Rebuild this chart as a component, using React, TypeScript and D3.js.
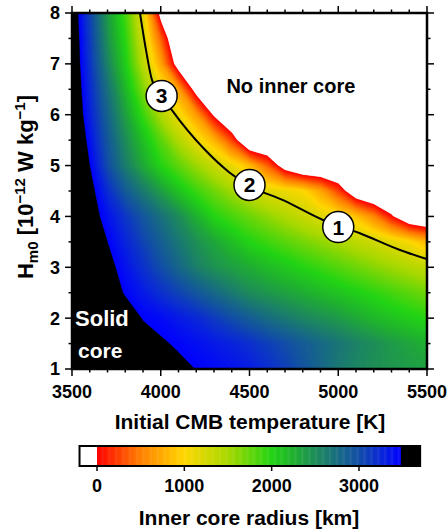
import React, { useRef, useEffect } from 'react'
import * as d3 from 'd3'

// model grid: initial CMB temperature [K] (columns) and H_m0 [1e-12 W/kg] (rows)
const cmbTemperatures = [
    3500, 3600, 3700, 3800, 3900, 4000, 4100, 4200, 4300, 4400, 4500, 4600, 4700, 4800, 4900,
    5000, 5100, 5200, 5300, 5400, 5500,
]
const heatProduction = [1, 1.5, 2, 2.5, 3, 3.5, 4, 4.5, 5, 5.5, 6, 6.5, 7, 7.5, 8]

// present-day inner core radius [km], one row per H_m0 (bottom row first)
// > 3480 : core fully solid, < 0 : no inner core
const radiusH10 = [3900, 3800, 3750, 3700, 3650, 3600, 3532, 3475, 3430, 3380, 3320, 3220, 3100, 2950, 2800, 2650, 2550, 2480, 2430, 2390, 2350]
const radiusH15 = [3900, 3800, 3700, 3620, 3570, 3506, 3453, 3400, 3340, 3280, 3200, 3100, 3000, 2890, 2780, 2680, 2580, 2490, 2400, 2325, 2250]
const radiusH20 = [3900, 3800, 3700, 3586, 3470, 3420, 3335, 3250, 3125, 3000, 2875, 2750, 2650, 2550, 2475, 2400, 2300, 2200, 2125, 2050, 1980]
const radiusH25 = [3859, 3727, 3595, 3463, 3331, 3198, 3066, 2929, 2786, 2643, 2500, 2423, 2346, 2269, 2192, 2115, 2038, 1957, 1871, 1786, 1700]
const radiusH30 = [3900, 3753, 3565, 3377, 3188, 3000, 2800, 2600, 2455, 2364, 2273, 2182, 2091, 2000, 1907, 1814, 1721, 1629, 1536, 1443, 1350]
const radiusH35 = [3898, 3689, 3480, 3271, 3063, 2860, 2660, 2469, 2313, 2156, 2000, 1897, 1794, 1691, 1588, 1485, 1383, 1280, 1163, 1027, 800]
const radiusH40 = [3833, 3608, 3383, 3158, 2935, 2717, 2500, 2250, 2000, 1865, 1729, 1594, 1458, 1323, 1192, 1073, 874, 543, 52, -464, -600]
const radiusH45 = [3900, 3582, 3218, 2895, 2632, 2375, 2125, 1904, 1712, 1520, 1328, 1183, 1100, 1017, 714, 250, -375, -600, -600, -600, -600]
const radiusH50 = [3900, 3480, 3000, 2615, 2294, 2000, 1773, 1546, 1318, 1113, 833, 375, -250, -600, -600, -600, -600, -600, -600, -600, -600]
const radiusH55 = [3864, 3384, 2917, 2500, 2143, 1790, 1440, 1126, 792, 250, -583, -600, -600, -600, -600, -600, -600, -600, -600, -600, -600]
const radiusH60 = [3784, 3294, 2818, 2364, 1909, 1453, 1084, 650, -64, -600, -600, -600, -600, -600, -600, -600, -600, -600, -600, -600, -600]
const radiusH65 = [3757, 3235, 2711, 2200, 1653, 1135, 667, -200, -600, -600, -600, -600, -600, -600, -600, -600, -600, -600, -600, -600, -600]
const radiusH70 = [3734, 3169, 2562, 2050, 1400, 708, -250, -600, -600, -600, -600, -600, -600, -600, -600, -600, -600, -600, -600, -600, -600]
const radiusH75 = [3720, 3120, 2452, 1965, 1255, 375, -600, -600, -600, -600, -600, -600, -600, -600, -600, -600, -600, -600, -600, -600, -600]
const radiusH80 = [3695, 3063, 2381, 1854, 1145, -182, -600, -600, -600, -600, -600, -600, -600, -600, -600, -600, -600, -600, -600, -600, -600]
const innerCoreRadius = [
    radiusH10, radiusH15, radiusH20, radiusH25, radiusH30, radiusH35, radiusH40, radiusH45,
    radiusH50, radiusH55, radiusH60, radiusH65, radiusH70, radiusH75, radiusH80,
]
const coreRadius = 3480

// colour palette
const radiusStops = [0, 500, 1000, 1500, 2000, 2250, 2500, 2750, 3000, 3250, 3480]
const radiusColors = [
    '#ff0000', '#ff8000', '#ffd700', '#a8d800', '#22d414', '#20b030',
    '#1e8c5a', '#186c82', '#124ea8', '#0a28d8', '#0000ff',
]

// present-day inner core size line and the three marked models
const presentDayLine: [number, number][] = [
    [3883, 8.0], [3917, 7.27], [3951, 6.68], [4063, 6.09], [4249, 5.31], [4385, 4.87],
    [4500, 4.6], [4689, 4.32], [4914, 3.93], [5122, 3.67], [5348, 3.34], [5500, 3.16],
]
const markerLabels = ['1', '2', '3']
const markerTemperatures = [5000, 4500, 4005]
const markerHeating = [3.79, 4.62, 6.37]

const xTicks = [3500, 4000, 4500, 5000, 5500]
const yTicks = [1, 2, 3, 4, 5, 6, 7, 8]
const colorbarTicks = [0, 1000, 2000, 3000]
const colorbarDomain = [-200, 3700]

const FONT = '"Liberation Sans", Arial, Helvetica, sans-serif'

export default function App() {
    const svgRef = useRef<SVGSVGElement>(null)

    useEffect(() => {
        if (!svgRef.current) return
        const svg = d3.select(svgRef.current)
        svg.selectAll('*').remove()

        const x = d3.scaleLinear().domain([3500, 5500]).range([72, 427])
        const y = d3.scaleLinear().domain([1, 8]).range([369, 13])
        const color = d3
            .scaleLinear<string>()
            .domain(radiusStops)
            .range(radiusColors)
            .interpolate(d3.interpolateRgb)
            .clamp(true)

        // ---- heat map from the grid via contour bands
        const nx = cmbTemperatures.length
        const ny = heatProduction.length
        const gx = d3
            .scaleLinear()
            .domain([0.5, nx - 0.5])
            .range([x(cmbTemperatures[0]), x(cmbTemperatures[nx - 1])])
        const gy = d3
            .scaleLinear()
            .domain([0.5, ny - 0.5])
            .range([y(heatProduction[0]), y(heatProduction[ny - 1])])
        const path = d3.geoPath(
            d3.geoTransform({
                point(px: number, py: number) {
                    this.stream.point(gx(px), gy(py))
                },
            }),
        )
        const step = 20
        const thresholds = d3.range(0, coreRadius, step).concat([coreRadius])
        const bands = d3.contours().size([nx, ny]).thresholds(thresholds)(innerCoreRadius.flat())

        const [x0, x1] = x.range()
        const [y0, y1] = y.range()
        svg.append('defs')
            .append('clipPath')
            .attr('id', 'plot-clip')
            .append('rect')
            .attr('x', x0)
            .attr('y', y1)
            .attr('width', x1 - x0)
            .attr('height', y0 - y1)

        const field = svg.append('g').attr('clip-path', 'url(#plot-clip)')
        field.append('rect')
            .attr('x', x0)
            .attr('y', y1)
            .attr('width', x1 - x0)
            .attr('height', y0 - y1)
            .attr('fill', '#fff')
        field.selectAll('path.band')
            .data(bands)
            .join('path')
            .attr('class', 'band')
            .attr('d', (d) => path(d))
            .attr('fill', (d) => (d.value >= coreRadius ? '#000' : color(d.value + step / 2)))
            .attr('stroke', (d) => (d.value >= coreRadius ? '#000' : color(d.value + step / 2)))
            .attr('stroke-width', 0.3)

        // present-day line
        const line = d3
            .line<[number, number]>()
            .x((d) => x(d[0]))
            .y((d) => y(d[1]))
            .curve(d3.curveMonotoneX)
        field.append('path')
            .attr('d', line(presentDayLine))
            .attr('fill', 'none')
            .attr('stroke', '#000')
            .attr('stroke-width', 2)

        // region labels
        field.append('text')
            .attr('x', x(4370))
            .attr('y', y(6.43))
            .style('font', `bold 20px ${FONT}`)
            .text('No inner core')
        field.append('text')
            .attr('x', x(3517))
            .attr('y', y(1.85))
            .attr('fill', '#fff')
            .style('font', `bold 22px ${FONT}`)
            .text('Solid')
        field.append('text')
            .attr('x', x(3534))
            .attr('y', y(1.22))
            .attr('fill', '#fff')
            .style('font', `bold 21px ${FONT}`)
            .text('core')

        // numbered markers
        const markers = svg.append('g')
        markerLabels.forEach((label, i) => {
            const cx = x(markerTemperatures[i])
            const cy = y(markerHeating[i])
            markers.append('circle')
                .attr('cx', cx)
                .attr('cy', cy)
                .attr('r', 15.5)
                .attr('fill', '#fff')
                .attr('stroke', '#000')
                .attr('stroke-width', 1.5)
            markers.append('text')
                .attr('x', cx)
                .attr('y', cy)
                .attr('dy', '0.36em')
                .attr('text-anchor', 'middle')
                .style('font', `bold 21px ${FONT}`)
                .text(label)
        })

        // ---- frame and ticks
        const axes = svg.append('g')
        const major = 7
        const minor = 3.5
        const minorX = x.ticks(20)
        const minorY = y.ticks(14)
        const tick = (x1: number, y1: number, x2: number, y2: number) =>
            axes.append('line')
                .attr('x1', x1)
                .attr('y1', y1)
                .attr('x2', x2)
                .attr('y2', y2)
                .attr('stroke', '#000')
                .attr('stroke-width', 1.5)
        minorX.forEach((t) => {
            const len = xTicks.includes(t) ? major : minor
            tick(x(t), y1, x(t), y1 - len)
            tick(x(t), y0, x(t), y0 + len)
        })
        minorY.forEach((h) => {
            const len = yTicks.includes(h) ? major : minor
            tick(x0, y(h), x0 - len, y(h))
            tick(x1, y(h), x1 + len, y(h))
        })
        axes.append('rect')
            .attr('x', x0)
            .attr('y', y1)
            .attr('width', x1 - x0)
            .attr('height', y0 - y1)
            .attr('fill', 'none')
            .attr('stroke', '#000')
            .attr('stroke-width', 2.5)

        axes.selectAll('text.xt')
            .data(xTicks)
            .join('text')
            .attr('class', 'xt')
            .attr('x', (d) => x(d))
            .attr('y', 398)
            .attr('text-anchor', 'middle')
            .style('font', `bold 18px ${FONT}`)
            .text((d) => d)
        axes.selectAll('text.yt')
            .data(yTicks)
            .join('text')
            .attr('class', 'yt')
            .attr('x', 60)
            .attr('y', (d) => y(d))
            .attr('dy', '0.36em')
            .attr('text-anchor', 'end')
            .style('font', `bold 18px ${FONT}`)
            .text((d) => d)

        axes.append('text')
            .attr('x', (x0 + x1) / 2 + 0.5)
            .attr('y', 429)
            .attr('text-anchor', 'middle')
            .style('font', `bold 21px ${FONT}`)
            .text('Initial CMB temperature [K]')

        const yTitle = axes.append('text')
            .attr('transform', `translate(33,${(y0 + y1) / 2 - 4}) rotate(-90)`)
            .attr('text-anchor', 'middle')
            .style('font', `bold 22px ${FONT}`)
        yTitle.append('tspan').text('H')
        yTitle.append('tspan').attr('dy', 5).style('font-size', '15px').text('m0')
        yTitle.append('tspan').attr('dy', -5).text(' [10')
        yTitle.append('tspan').attr('dy', -8).style('font-size', '15px').text('−12')
        yTitle.append('tspan').attr('dy', 8).text(' W kg')
        yTitle.append('tspan').attr('dy', -8).style('font-size', '15px').text('−1')
        yTitle.append('tspan').attr('dy', 8).text(']')

        // ---- colour bar
        const cb = d3.scaleLinear().domain([0, 3000]).range([97, 359])
        const cbTop = 446
        const cbHeight = 20
        const cbG = svg.append('g')
        cbG.append('rect')
            .attr('x', cb(colorbarDomain[0]))
            .attr('y', cbTop)
            .attr('width', cb(colorbarDomain[1]) - cb(colorbarDomain[0]))
            .attr('height', cbHeight)
            .attr('fill', '#fff')
        const cbSteps = d3.range(0, coreRadius, 10)
        cbG.selectAll('rect.cb')
            .data(cbSteps)
            .join('rect')
            .attr('class', 'cb')
            .attr('x', (d) => cb(d))
            .attr('y', cbTop)
            .attr('width', cb(10) - cb(0) + 0.5)
            .attr('height', cbHeight)
            .attr('fill', (d) => color(d + 5))
        cbG.append('rect')
            .attr('x', cb(coreRadius))
            .attr('y', cbTop)
            .attr('width', cb(colorbarDomain[1]) - cb(coreRadius))
            .attr('height', cbHeight)
            .attr('fill', '#000')
        cbG.append('rect')
            .attr('x', cb(colorbarDomain[0]))
            .attr('y', cbTop)
            .attr('width', cb(colorbarDomain[1]) - cb(colorbarDomain[0]))
            .attr('height', cbHeight)
            .attr('fill', 'none')
            .attr('stroke', '#000')
            .attr('stroke-width', 2)
        colorbarTicks.forEach((t) => {
            cbG.append('line')
                .attr('x1', cb(t))
                .attr('x2', cb(t))
                .attr('y1', cbTop + cbHeight)
                .attr('y2', cbTop + cbHeight + 5)
                .attr('stroke', '#000')
                .attr('stroke-width', 1.5)
            cbG.append('text')
                .attr('x', cb(t))
                .attr('y', 492)
                .attr('text-anchor', 'middle')
                .style('font', `bold 18px ${FONT}`)
                .text(t)
        })
        cbG.append('text')
            .attr('x', 249)
            .attr('y', 525)
            .attr('text-anchor', 'middle')
            .style('font', `bold 21px ${FONT}`)
            .text('Inner core radius [km]')
    }, [])

    return (
        <div style={{ position: 'absolute', left: 0, top: 0, width: 448, height: 530, background: '#fff' }}>
            <svg ref={svgRef} width={448} height={530} style={{ display: 'block' }} />
        </div>
    )
}
